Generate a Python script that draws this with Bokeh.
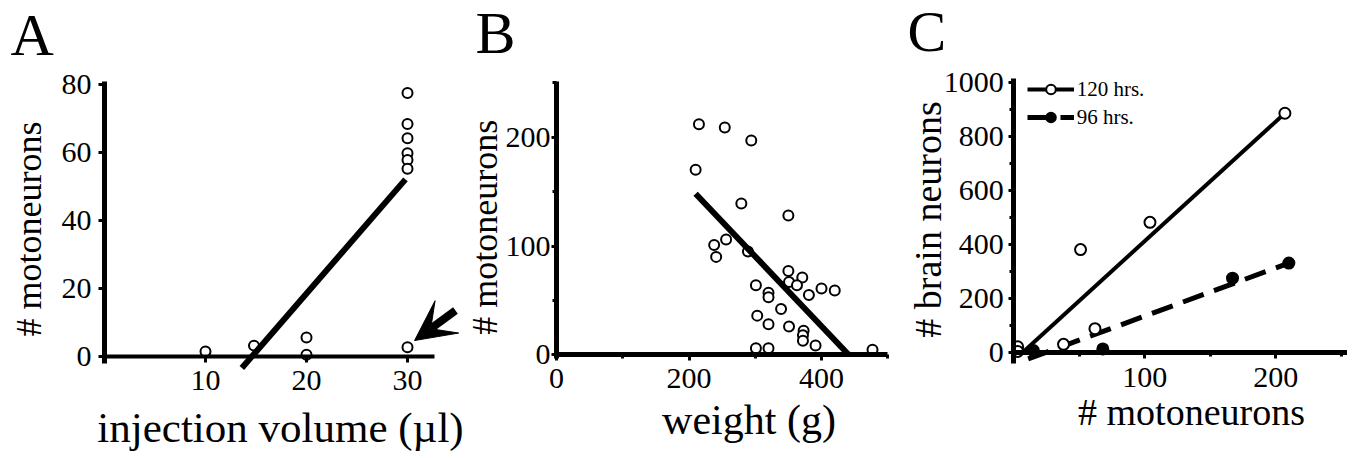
import math
from bokeh.plotting import figure
from bokeh.layouts import row
from bokeh.models import Range1d, FixedTicker, Label, Arrow, VeeHead, Legend, LegendItem
from bokeh.embed import file_html
from bokeh.resources import INLINE

# ---------------- data ----------------
# Panel A: injection volume vs motoneurons
a_volume = [10, 14.8, 20, 20, 30, 30, 30, 30, 30, 30, 30]
a_motoneurons = [1.5, 3.2, 5.6, 0.5, 77.5, 68.4, 64.2, 59.8, 57.8, 55.2, 2.7]
a_fit_volume = [13.6, 29.8]
a_fit_motoneurons = [-3.4, 52.1]
a_x_ticks = [10, 20, 30]
a_y_ticks = [0, 20, 40, 60, 80]
a_arrow_start = (34.75, 13.5)
a_arrow_end = (30.7, 4.7)

# Panel B: weight vs motoneurons
b_weight = [215, 254, 294, 210, 279, 350, 256, 238, 241, 289, 350, 371, 351, 363, 381,
            400, 420, 301, 320, 320, 339, 303, 320, 351, 373, 372, 372, 391, 301, 320, 477]
b_motoneurons = [212, 209, 197, 170, 139, 128, 106, 101, 90, 95, 77, 71, 67, 64, 55,
                 61, 59, 64, 57, 53, 42, 36, 28, 26, 22, 18, 13, 8.5, 6, 6, 4.6]
b_fit_weight = [210, 441]
b_fit_motoneurons = [148, 0]
b_x_ticks = [0, 200, 400]
b_x_minor = [100, 300, 500]
b_y_ticks = [0, 100, 200]
b_y_minor = [50, 150, 250]

# Panel C: motoneurons vs brain neurons
c120_moto = [3, 3, 38, 51, 62, 104, 207]
c120_brain = [20, 3, 29, 380, 87, 481, 885]
c96_moto = [15, 68, 167, 210]
c96_brain = [6, 12, 274, 330]
c120_fit_moto = [7, 207]
c120_fit_brain = [0, 885]
c96_fit_moto = [11, 210]
c96_fit_brain = [-25, 330]
c_x_ticks = [100, 200]
c_x_minor = [50, 150, 250]
c_y_ticks = [0, 200, 400, 600, 800, 1000]
c_y_minor = [100, 300, 500, 700, 900]
c_labels = ["120 hrs.", "96 hrs."]

FONT = "Liberation Serif"

# ---------------- layout geometry (pixels in the picture) ----------------
FIG_H = 458
BASELINE_SHIFT = 0.42  # em, compensates label anchor offset


class Geo:
    def __init__(self, page_left, width, x0, sx, y0, sy):
        self.page_left = page_left
        self.width = width
        self.x0, self.sx, self.y0, self.sy = x0, sx, y0, sy

    def dx(self, px):
        return (px - self.x0) / self.sx

    def dy(self, py):
        return (self.y0 - py) / self.sy


gA = Geo(0, 466, 104, 10.1, 356, 3.4)
gB = Geo(466, 434, 556, 0.6625, 354.3, 1.088)
gC = Geo(900, 447, 1013.24, 1.31, 351.7, 0.27)


def make_fig(g):
    p = figure(width=g.width, height=FIG_H,
               x_range=Range1d(g.dx(g.page_left), g.dx(g.page_left + g.width)),
               y_range=Range1d(g.dy(FIG_H), g.dy(0)),
               output_backend="svg", toolbar_location=None,
               min_border=0, min_border_left=0, min_border_right=0,
               min_border_top=0, min_border_bottom=0)
    p.outline_line_color = None
    p.grid.visible = False
    p.background_fill_color = "white"
    p.border_fill_color = "white"
    return p


def style_axis(ax, ticks, minor, bounds, line_w, tick_out, standoff):
    ax.ticker = FixedTicker(ticks=ticks, minor_ticks=minor)
    ax.bounds = bounds
    ax.fixed_location = 0
    ax.axis_line_width = line_w
    ax.axis_line_color = "black"
    ax.major_tick_out = tick_out
    ax.major_tick_in = 0
    ax.major_tick_line_width = 3
    ax.major_tick_line_color = "black"
    ax.minor_tick_out = 4
    ax.minor_tick_in = 0
    ax.minor_tick_line_width = 3
    ax.minor_tick_line_color = "black"
    ax.major_label_standoff = standoff
    ax.major_label_text_font = FONT
    ax.major_label_text_font_size = "30px"
    ax.major_label_text_color = "black"


def add_text(p, g, text, px, py, size, align="left", vertical=False):
    shift = BASELINE_SHIFT * size
    if vertical:
        x, y, angle = g.dx(px - shift), g.dy(py), math.pi / 2
    else:
        x, y, angle = g.dx(px), g.dy(py - shift), 0.0
    p.add_layout(Label(x=x, y=y, text=text, angle=angle,
                       text_font=FONT, text_font_size=f"{size}px", text_color="black",
                       text_align=align, text_baseline="alphabetic"))


# ---------------- Panel A ----------------
pA = make_fig(gA)
pA.scatter(a_volume, a_motoneurons, marker="circle", size=10, line_width=2,
           line_color="black", fill_color="white")
pA.line(a_fit_volume, a_fit_motoneurons, line_width=6, line_color="black")
pA.add_layout(Arrow(end=VeeHead(size=40, fill_color="black", line_color="black"),
                    x_start=a_arrow_start[0], y_start=a_arrow_start[1],
                    x_end=a_arrow_end[0], y_end=a_arrow_end[1],
                    line_width=8, line_color="black"))
style_axis(pA.xaxis[0], a_x_ticks, [], (0, 32.7), 4, 6, 8)
style_axis(pA.yaxis[0], a_y_ticks, [], (-2, 81), 5, 6, 7)
add_text(pA, gA, "A", 10, 60, 60)
add_text(pA, gA, "# motoneurons", 43.5, 228.5, 36, "center", vertical=True)
add_text(pA, gA, "injection volume (\u00b5l)", 280, 445, 43, "center")

# ---------------- Panel B ----------------
pB = make_fig(gB)
pB.scatter(b_weight, b_motoneurons, marker="circle", size=10, line_width=2,
           line_color="black", fill_color="white")
pB.line(b_fit_weight, b_fit_motoneurons, line_width=6, line_color="black")
style_axis(pB.xaxis[0], b_x_ticks, b_x_minor, (0, 500), 5, 6, 8)
style_axis(pB.yaxis[0], b_y_ticks, b_y_minor, (-3.5, 251), 5, 5, 1)
add_text(pB, gB, "B", 475, 58, 60)
add_text(pB, gB, "# motoneurons", 500, 226.7, 36, "center", vertical=True)
add_text(pB, gB, "weight (g)", 748.5, 436.7, 42, "center")

# ---------------- Panel C ----------------
pC = make_fig(gC)
l120 = pC.line(c120_fit_moto, c120_fit_brain, line_width=4, line_color="black")
l96 = pC.line(c96_fit_moto, c96_fit_brain, line_width=5, line_color="black",
              line_dash="22 11")
s120 = pC.scatter(c120_moto, c120_brain, marker="circle", size=11, line_width=2,
                  line_color="black", fill_color="white")
s96 = pC.scatter(c96_moto, c96_brain, marker="circle", size=11, line_width=2,
                 line_color="black", fill_color="black")
style_axis(pC.xaxis[0], c_x_ticks, c_x_minor, (-2, 254.8), 5, 6, 10)
style_axis(pC.yaxis[0], c_y_ticks, c_y_minor, (-42, 1013), 5, 5, 5)
legend = Legend(items=[LegendItem(label=c_labels[0], renderers=[l120, s120]),
                       LegendItem(label=c_labels[1], renderers=[l96, s96])],
                location=(1026.7 - gC.page_left, FIG_H - 129.7), orientation="vertical",
                glyph_width=47, glyph_height=24, label_height=24, label_standoff=3,
                spacing=3, padding=0, margin=0,
                border_line_color=None, background_fill_alpha=0,
                label_text_font=FONT, label_text_font_size="21px",
                label_text_color="black")
pC.add_layout(legend)
add_text(pC, gC, "C", 907, 55, 58)
add_text(pC, gC, "# brain neurons", 943, 219, 38, "center", vertical=True)
add_text(pC, gC, "# motoneurons", 1191, 427, 38, "center")

layout = row(pA, pB, pC)
open("out.html", "w").write(file_html(layout, INLINE))
